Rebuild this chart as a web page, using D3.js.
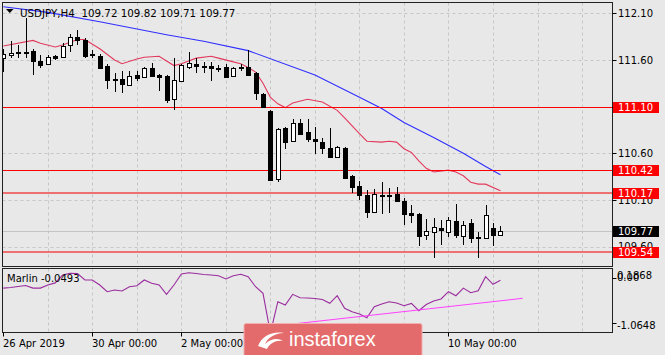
<!DOCTYPE html>
<html><head><meta charset="utf-8">
<script src="https://cdn.jsdelivr.net/npm/d3@7"></script>
<style>body{margin:0;background:#e8e8e8;overflow:hidden} svg{display:block}</style>
</head><body><svg id="c" width="665" height="355"></svg>
<script>
// ---------- data ----------
const symbol = "USDJPY,H4";
const titleOHLC = [109.72, 109.82, 109.71, 109.77];
const opens  = [111.62,111.65,111.69,111.69,111.70,111.59,111.56,111.64,111.63,111.76,
                111.85,111.81,111.66,111.64,111.54,111.40,111.40,111.33,111.44,111.42,
                111.51,111.44,111.43,111.18,111.37,111.53,111.56,111.54,111.54,111.51,
                111.52,111.43,111.52,111.52,111.46,111.24,111.05,110.33,110.87,110.73,
                110.92,110.83,110.75,110.72,110.66,110.56,110.66,110.36,110.25,110.15,
                109.97,110.15,110.15,110.16,110.09,109.96,109.95,109.72,109.76,109.80,
                109.76,109.88,109.71,109.85,109.70,109.69,109.80,109.72];
const highs  = [111.72,111.80,111.76,112.05,111.72,111.65,111.65,111.65,111.78,111.88,
                111.92,111.84,111.71,111.66,111.56,111.46,111.48,111.48,111.48,111.53,
                111.57,111.45,111.44,111.62,111.56,111.69,111.62,111.58,111.58,111.55,
                111.56,111.52,111.56,111.71,111.47,111.25,111.06,110.87,110.88,110.97,
                110.97,110.97,110.88,110.76,110.87,110.68,110.67,110.37,110.30,110.21,
                110.22,110.29,110.23,110.24,110.12,110.05,109.96,109.90,109.91,109.89,
                109.92,110.06,109.87,109.90,109.76,110.05,109.85,109.82];
const lows   = [111.47,111.62,111.62,111.62,111.44,111.51,111.55,111.60,111.62,111.69,
                111.76,111.62,111.62,111.50,111.29,111.26,111.25,111.32,111.37,111.41,
                111.42,111.27,111.14,111.06,111.36,111.50,111.46,111.46,111.38,111.47,
                111.41,111.42,111.48,111.43,111.17,111.09,110.30,110.29,110.65,110.72,
                110.80,110.72,110.59,110.59,110.55,110.55,110.32,110.17,110.10,109.91,
                109.96,109.95,109.96,110.08,109.83,109.85,109.61,109.67,109.48,109.62,
                109.70,109.69,109.62,109.64,109.48,109.68,109.61,109.71];
const closes = [111.66,111.67,111.68,111.68,111.59,111.55,111.63,111.62,111.75,111.85,
                111.81,111.64,111.65,111.51,111.39,111.39,111.34,111.43,111.41,111.51,
                111.43,111.42,111.17,111.39,111.55,111.57,111.54,111.52,111.51,111.50,
                111.42,111.51,111.51,111.44,111.25,111.10,110.31,110.86,110.72,110.92,
                110.81,110.75,110.73,110.66,110.56,110.67,110.34,110.24,110.15,109.97,
                110.16,110.14,110.14,110.09,109.95,109.94,109.71,109.77,109.81,109.78,
                109.89,109.72,109.83,109.69,109.69,109.94,109.72,109.77];
// slow moving average (blue), read at these bars
const maSlowBars = [0,6,13,22,27,33,42,48,51,54,58,62,65,67];
const maSlowVals = [112.17,112.11,112.01,111.87,111.80,111.70,111.44,111.20,111.08,110.93,110.77,110.60,110.46,110.37];
// fast moving average (red)
const maFastBars = [0,4,5,7,8,10,11,13,15,16,18,19,21,22,23,24,26,28,29,31,32,33,34,35,36,37,38,39,41,43,45,46,48,49,51,52,53,54,55,56,57,58,60,61,62,63,64,65,67];
const maFastVals = [111.75,111.81,111.78,111.74,111.76,111.82,111.82,111.72,111.60,111.56,111.61,111.63,111.64,111.59,111.54,111.56,111.62,111.64,111.62,111.58,111.56,111.52,111.47,111.35,111.20,111.13,111.09,111.14,111.18,111.15,111.06,110.98,110.81,110.73,110.72,110.73,110.72,110.65,110.61,110.52,110.44,110.40,110.42,110.40,110.36,110.29,110.27,110.27,110.20];
// Marlin oscillator
const marlin = [-0.20,-0.19,-0.17,-0.15,-0.20,-0.20,-0.14,-0.10,0.05,0.085,
                0.08,-0.044,-0.044,-0.14,-0.27,-0.237,-0.257,-0.174,-0.154,-0.044,
                -0.108,-0.14,-0.32,-0.14,0.071,0.096,0.080,0.062,0.052,0.038,
                -0.025,0.038,0.065,0.019,-0.174,-0.30,-1.0648,-0.462,-0.526,-0.32,
                -0.386,-0.391,-0.401,-0.42,-0.494,-0.347,-0.59,-0.655,-0.70,-0.771,
                -0.559,-0.507,-0.462,-0.487,-0.54,-0.494,-0.636,-0.517,-0.449,-0.41,
                -0.27,-0.347,-0.20,-0.289,-0.251,0.019,-0.127,-0.0493];
const trendBars = [36, 70];
const trendVals = [-0.94, -0.397];
const levels = [111.10, 110.42, 110.17, 109.54];
const priceTicks = [112.10, 111.60, 111.10, 110.60, 110.10, 109.60];
const marlinMax = 0.1868, marlinMin = -1.0648;
const timeLabelBars = [0, 12, 24, 36, 48, 60];
const timeLabels = ["26 Apr 2019", "30 Apr 00:00", "2 May 00:00", "6 May 00:00", "8 May 00:00", "10 May 00:00"];

// ---------- layout ----------
const L = 2.5, R = 612.5, T = 2.5, MB = 266.5, IT = 268.5, IB = 332.5;
const FONT = "DejaVu Sans";
const svg = d3.select("#c");
svg.append("rect").attr("width", 665).attr("height", 355).attr("fill", "#e8e8e8");

const x = d3.scaleLinear().domain([0, 82]).range([3.3, 3.3 + 7.42 * 82]);
const y = d3.scaleLinear().domain([109.60, 112.10]).range([246.7, 13.3]);
const yi = d3.scaleLinear().domain([marlinMin, marlinMax]).range([333, 268]);
const px = i => Math.round(x(i)) + 0.5;

const defs = svg.append("defs");
defs.append("clipPath").attr("id", "cm").append("rect").attr("x", L).attr("y", T).attr("width", R - L).attr("height", MB - T);
defs.append("clipPath").attr("id", "ci").append("rect").attr("x", L).attr("y", IT).attr("width", R - L).attr("height", IB - IT);

const main = svg.append("g").attr("clip-path", "url(#cm)");
const ind = svg.append("g").attr("clip-path", "url(#ci)");

// grid
const gridBars = d3.range(6, 82, 6);
[main, ind].forEach((g, k) => {
  g.selectAll(null).data(gridBars).join("line")
    .attr("x1", d => px(d)).attr("x2", d => px(d))
    .attr("y1", k ? IT : T).attr("y2", k ? IB : MB)
    .attr("stroke", "#c6c6c6").attr("stroke-dasharray", "3,3");
});
main.selectAll(null).data(priceTicks).join("line")
  .attr("x1", L).attr("x2", R)
  .attr("y1", d => Math.round(y(d)) + 0.5).attr("y2", d => Math.round(y(d)) + 0.5)
  .attr("stroke", "#c6c6c6").attr("stroke-dasharray", "3,3");

// current price line
const last = closes[closes.length - 1];
main.append("line").attr("x1", L).attr("x2", R)
  .attr("y1", Math.round(y(last)) + 0.5).attr("y2", Math.round(y(last)) + 0.5)
  .attr("stroke", "#c4c4c4");

// moving averages
const lineGen = d3.line().x(d => x(d[0])).y(d => y(d[1]));
main.append("path").attr("d", lineGen(d3.zip(maSlowBars, maSlowVals)))
  .attr("fill", "none").attr("stroke", "#2f2fff").attr("stroke-width", 1.1);
main.append("path").attr("d", lineGen(d3.zip(maFastBars, maFastVals)))
  .attr("fill", "none").attr("stroke", "#e23a5c").attr("stroke-width", 1.1);

// horizontal levels
main.selectAll(null).data(levels).join("line")
  .attr("x1", L).attr("x2", R)
  .attr("y1", (d, i) => i < 2 ? Math.round(y(d)) + 0.5 : Math.round(y(d)))
  .attr("y2", (d, i) => i < 2 ? Math.round(y(d)) + 0.5 : Math.round(y(d)))
  .attr("stroke", (d, i) => i < 2 ? "#ff0000" : "#f24848")
  .attr("stroke-width", (d, i) => i < 2 ? 1.2 : 1.4);

// candles
const idx = d3.range(opens.length);
const cg = main.append("g");
cg.selectAll(null).data(idx).join("line")
  .attr("x1", px).attr("x2", px)
  .attr("y1", i => Math.round(y(highs[i]))).attr("y2", i => Math.round(y(lows[i])))
  .attr("stroke", "#000");
cg.selectAll(null).data(idx).join("rect")
  .attr("x", i => px(i) - 2).attr("width", 4)
  .attr("y", i => Math.round(y(Math.max(opens[i], closes[i]))) + 0.5)
  .attr("height", i => Math.max(0.01, Math.round(y(Math.min(opens[i], closes[i]))) - Math.round(y(Math.max(opens[i], closes[i])))))
  .attr("fill", i => closes[i] > opens[i] ? "#fff" : "#000")
  .attr("stroke", "#000").attr("stroke-width", 1);

// marlin
const mline = d3.line().x((d, i) => x(i)).y(d => yi(d));
ind.append("path").attr("d", mline(marlin)).attr("fill", "none")
  .attr("stroke", "#9a2c9e").attr("stroke-width", 1.1);
ind.append("path").attr("d", d3.line().x(d => x(d[0])).y(d => yi(d[1]))(d3.zip(trendBars, trendVals)))
  .attr("fill", "none").attr("stroke", "#ff40ff").attr("stroke-width", 1.1);

// frames
svg.append("rect").attr("x", L).attr("y", T).attr("width", R - L).attr("height", MB - T)
  .attr("fill", "none").attr("stroke", "#222");
svg.append("rect").attr("x", L).attr("y", IT).attr("width", R - L).attr("height", IB - IT)
  .attr("fill", "none").attr("stroke", "#222");

// title
svg.append("path").attr("d", "M6,9L13.5,9L9.75,13Z").attr("fill", "#000");
svg.append("text").attr("x", 20).attr("y", 16.5).attr("font-family", FONT).attr("font-size", 10.3)
  .attr("fill", "#000").attr("xml:space", "preserve")
  .text(symbol + "  " + titleOHLC.map(v => v.toFixed(2)).join(" "));
svg.append("text").attr("x", 7).attr("y", 281.5).attr("font-family", FONT).attr("font-size", 10)
  .attr("fill", "#000").text("Marlin " + marlin[marlin.length - 1].toFixed(4));

// right price axis
const ax = svg.append("g");
ax.selectAll(null).data(priceTicks).join("line")
  .attr("x1", R).attr("x2", R + 4)
  .attr("y1", d => Math.round(y(d)) + 0.5).attr("y2", d => Math.round(y(d)) + 0.5)
  .attr("stroke", "#000");
ax.selectAll(null).data(priceTicks).join("text")
  .attr("x", 618).attr("y", d => y(d) + 3.6)
  .attr("font-family", FONT).attr("font-size", 10).attr("fill", "#000")
  .text(d => d.toFixed(2));
// level labels
const lab = svg.append("g");
const tagData = levels.map(v => ({v, c: "#ff0000"})).concat([{v: last, c: "#000"}]);
lab.selectAll(null).data(tagData).join("rect")
  .attr("x", 613).attr("width", 46).attr("y", d => Math.round(y(d.v)) - 5).attr("height", 11)
  .attr("fill", d => d.c);
lab.selectAll(null).data(tagData).join("text")
  .attr("x", 618).attr("y", d => Math.round(y(d.v)) + 4)
  .attr("font-family", FONT).attr("font-size", 10).attr("fill", "#fff")
  .text(d => d.v.toFixed(2));

// indicator axis
[[marlinMax, 275.5], [0, 277.5], [marlinMin, 325]].forEach(([v, ty]) => {
  svg.append("text").attr("x", 617).attr("y", ty + 3.6).attr("font-family", FONT).attr("font-size", 10)
    .attr("fill", "#000").text(v === 0 ? "0.00" : v.toFixed(4));
});
[278.5, 323.5].forEach(t => svg.append("line").attr("x1", R).attr("x2", R + 4).attr("y1", t).attr("y2", t).attr("stroke", "#000"));

// time axis
svg.selectAll(null).data(timeLabelBars).join("line")
  .attr("x1", d => px(d)).attr("x2", d => px(d)).attr("y1", IB).attr("y2", IB + 4).attr("stroke", "#000");
svg.selectAll(null).data(timeLabelBars).join("text")
  .attr("x", d => px(d) - 0.5).attr("y", 346.5)
  .attr("font-family", FONT).attr("font-size", 10).attr("fill", "#000")
  .text((d, i) => timeLabels[i]);

// watermark logo
const lg = svg.append("g");
lg.append("rect").attr("x", 244).attr("y", 323.5).attr("width", 178).attr("height", 40).attr("rx", 2)
  .attr("fill", "#e36b6b").attr("stroke", "#f3b0b0").attr("stroke-width", 1);
lg.append("path").attr("d", "M258,346 C262,336 272,331 284,333 C276,333 268,337 265,344 C271,338 279,338 283,341 C276,340 270,343 267,349 Z")
  .attr("fill", "#fff");
lg.append("text").attr("x", 289).attr("y", 346).attr("font-family", "Liberation Sans").attr("font-size", 20)
  .attr("fill", "#fff").text("instaforex");
</script></body></html>
